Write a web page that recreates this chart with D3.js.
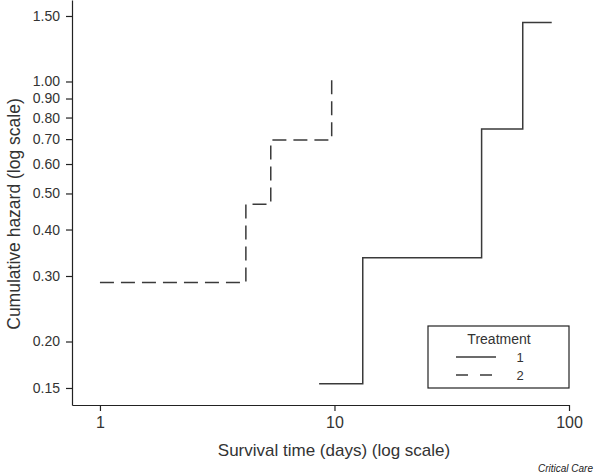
<html>
<head>
<title>Cumulative hazard</title>
<script src="https://d3js.org/d3.v7.min.js"></script>
<style>
body { margin: 0; background: #fff; }
svg { font-family: 'Liberation Sans', Arial, sans-serif; }
</style>
</head>
<body>
<div id="chart"></div>
<script>

var width = 600;
var height = 475;

// data
var treat1Days = [8.6, 13.2, 42.4, 63.5, 84.4];
var treat1Hazard = [0.154, 0.336, 0.745, 1.44, 1.44];
var treat2Days = [1, 4.19, 5.35, 9.73];
var treat2Hazard = [0.288, 0.468, 0.696, 1.052];

var seriesNames = ["1", "2"];
var xTicks = [1, 10, 100];
var yTicks = [0.15, 0.20, 0.30, 0.40, 0.50, 0.60, 0.70, 0.80, 0.90, 1.00, 1.50];

var ink = "#3a3a3a";

var svg = d3.select("#chart")
  .append("svg")
  .attr("width", width)
  .attr("height", height);

var x = d3.scaleLog().domain([0.76, 100]).range([72, 569]);
var y = d3.scaleLog().domain([0.135, 1.656]).range([405, 0]);

// axes
var xAxis = svg.append("g")
  .attr("transform", "translate(0,405)")
  .call(d3.axisBottom(x).tickValues(xTicks).tickFormat(d3.format("d")).tickSizeInner(6).tickSizeOuter(0).tickPadding(6));

var yAxis = svg.append("g")
  .attr("transform", "translate(72,0)")
  .call(d3.axisLeft(y).tickValues(yTicks).tickFormat(d3.format(".2f")).tickSizeInner(6).tickSizeOuter(0).tickPadding(6));

[xAxis, yAxis].forEach(function(a) {
  a.selectAll("path, line").attr("stroke", "#222").attr("stroke-width", 1.2);
  a.selectAll("text").attr("fill", "#333").style("font-size", "14px").attr("font-family", null);
});
xAxis.selectAll("text").style("font-size", "16px");

// titles
svg.append("text")
  .attr("x", 334)
  .attr("y", 456)
  .attr("text-anchor", "middle")
  .style("font-size", "17px")
  .attr("fill", "#333")
  .text("Survival time (days) (log scale)");

svg.append("text")
  .attr("transform", "translate(20,214) rotate(-90)")
  .attr("text-anchor", "middle")
  .style("font-size", "17.5px")
  .attr("fill", "#333")
  .text("Cumulative hazard (log scale)");

svg.append("text")
  .attr("x", 593)
  .attr("y", 472)
  .attr("text-anchor", "end")
  .style("font-size", "10px")
  .style("font-style", "italic")
  .attr("fill", "#222")
  .text("Critical Care");

// step lines
var line = d3.line()
  .x(d => x(d[0]))
  .y(d => y(d[1]))
  .curve(d3.curveStepAfter);

var series = [
  {name: seriesNames[0], pts: d3.zip(treat1Days, treat1Hazard), dash: null},
  {name: seriesNames[1], pts: d3.zip(treat2Days, treat2Hazard), dash: "14,7"}
];

svg.selectAll("path.step")
  .data(series)
  .enter()
  .append("path")
  .attr("class", "step")
  .attr("d", d => line(d.pts))
  .attr("fill", "none")
  .attr("stroke", ink)
  .attr("stroke-width", 1.5)
  .attr("stroke-dasharray", d => d.dash);

// legend
var legend = svg.append("g").attr("transform", "translate(428,326)");

legend.append("rect")
  .attr("width", 141)
  .attr("height", 62)
  .attr("fill", "#fff")
  .attr("stroke", "#222")
  .attr("stroke-width", 1.2);

legend.append("text")
  .attr("x", 71)
  .attr("y", 18)
  .attr("text-anchor", "middle")
  .style("font-size", "14px")
  .attr("fill", "#333")
  .text("Treatment");

var item = legend.selectAll("g.item")
  .data(series)
  .enter()
  .append("g")
  .attr("class", "item")
  .attr("transform", (d, i) => "translate(0," + (31 + i * 18) + ")");

item.append("line")
  .attr("x1", 28)
  .attr("x2", 68)
  .attr("stroke", ink)
  .attr("stroke-width", 1.5)
  .attr("stroke-dasharray", d => d.dash ? "12,12" : null);

item.append("text")
  .attr("x", 92)
  .attr("y", 5)
  .attr("text-anchor", "middle")
  .style("font-size", "13px")
  .attr("fill", "#333")
  .text(d => d.name);

</script>
</body>
</html>
